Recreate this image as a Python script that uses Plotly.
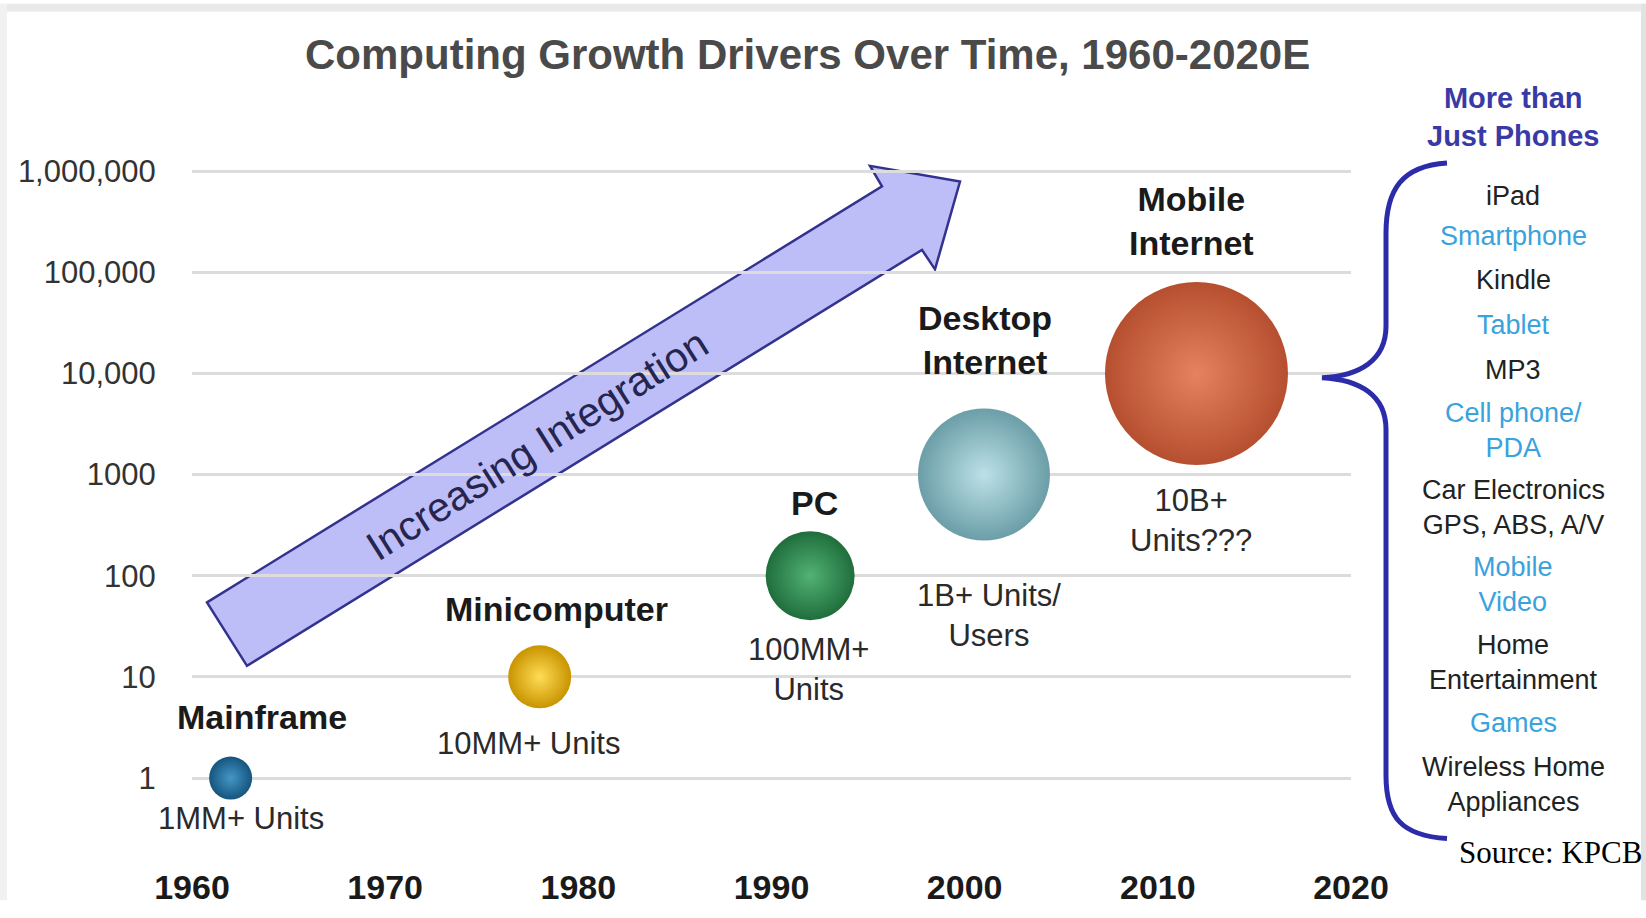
import numpy as np
import plotly.graph_objects as go

# ---------------- data ----------------
categories = ["Mainframe", "Minicomputer", "PC", "Desktop<br>Internet", "Mobile<br>Internet"]
years = [1962, 1978, 1992, 2001, 2012]
units_mm = [1, 10, 100, 1000, 10000]
unit_labels = ["1MM+ Units", "10MM+ Units", "100MM+<br>Units", "1B+ Units/<br>Users", "10B+<br>Units???"]

y_tick_vals = [1, 10, 100, 1000, 10000, 100000, 1000000]
y_tick_text = ["1", "10", "100", "1000", "10,000", "100,000", "1,000,000"]
x_tick_vals = [1960, 1970, 1980, 1990, 2000, 2010, 2020]
x_tick_text = ["1960", "1970", "1980", "1990", "2000", "2010", "2020"]

uses = ["iPad", "Smartphone", "Kindle", "Tablet", "MP3", "Cell phone/<br>PDA",
        "Car Electronics<br>GPS, ABS, A/V", "Mobile<br>Video", "Home<br>Entertainment",
        "Games", "Wireless Home<br>Appliances"]

title_text = "Computing Growth Drivers Over Time, 1960-2020E"
arrow_text = "Increasing Integration"
panel_title = "More than<br>Just Phones"
source_text = "Source: KPCB"

# ---------------- styles / layout ----------------
W, H = 1646, 918
L, R, T, B = 192, 295, 161, 37
PW, PH = W - L - R, H - T - B
FONT = "Liberation Sans, Arial, Helvetica, sans-serif"

bubble_px = [43, 63, 89, 132, 183]
edge_colors = ["#15557e", "#c99400", "#1f6e3c", "#6b9ea8", "#b64f2f"]
center_colors = ["#4596c6", "#ffdc55", "#52b274", "#bde1e7", "#e5825f"]
name_shift = [(31, 61), (17, 68), (4, 73), (1, 135), (-5, 152)]
unit_shift = [(10, -40), (-11, -67), (-2, -94), (5, -141), (-5, -147)]

use_colors = ["#222222", "#3aa2dc", "#222222", "#3aa2dc", "#222222", "#3aa2dc",
              "#222222", "#3aa2dc", "#222222", "#3aa2dc", "#222222"]
use_y_px = [197, 238, 283, 329, 375, 437, 516, 595, 675, 737, 800]
PANEL_X = 1513


def pp(x, y):
    """pixel position -> paper coordinates"""
    return (x - L) / PW, (H - B - y) / PH


def path_px(cmds):
    out = []
    for c in cmds:
        if isinstance(c, str):
            out.append(c)
        else:
            px_, py_ = pp(*c)
            out.append(f"{px_:.5f},{py_:.5f}")
    return " ".join(out)


def paper_note(x, y, text, size, color, family=FONT, angle=0):
    px_, py_ = pp(x, y)
    return dict(x=px_, y=py_, xref="paper", yref="paper", text=text, showarrow=False,
                xanchor="center", yanchor="middle", textangle=angle,
                font=dict(family=family, size=size, color=color))


fig = go.Figure()

fig.add_trace(go.Scatter(
    x=years, y=units_mm, mode="markers",
    marker=dict(size=bubble_px, color=edge_colors, opacity=1,
                gradient=dict(type="radial", color=center_colors),
                line=dict(width=0)),
    cliponaxis=False, hoverinfo="skip", showlegend=False,
))

annotations = []
for yr, v, name, ulab, ns, us in zip(years, units_mm, categories, unit_labels, name_shift, unit_shift):
    annotations.append(dict(x=yr, y=np.log10(v), xref="x", yref="y", text=f"<b>{name}</b>",
                            showarrow=False, xshift=ns[0], yshift=ns[1],
                            xanchor="center", yanchor="middle",
                            font=dict(family=FONT, size=34, color="#1a1a1a")))
    annotations.append(dict(x=yr, y=np.log10(v), xref="x", yref="y", text=ulab,
                            showarrow=False, xshift=us[0], yshift=us[1],
                            xanchor="center", yanchor="middle",
                            font=dict(family=FONT, size=31, color="#2a2a2a")))

annotations.append(paper_note(807, 52, f"<b>{title_text}</b>", 42, "#4a4a4a"))
annotations.append(paper_note(537, 452, arrow_text, 41, "#25254f", angle=-32.3))
annotations.append(paper_note(PANEL_X, 116, f"<b>{panel_title}</b>", 29, "#3a3aa6"))
for txt, col, yy in zip(uses, use_colors, use_y_px):
    annotations.append(paper_note(PANEL_X, yy, txt, 27, col))
annotations.append(paper_note(1551, 869, source_text, 31, "#000000",
                              family="Liberation Serif, Times New Roman, serif"))

# arrow polygon (pixel-derived paper coordinates)
arrow_pts = [(207, 613), (882, 187), (870, 166), (960, 182), (935, 272), (922, 252), (247, 678)]
arrow_cmd = []
for i, p in enumerate(arrow_pts):
    arrow_cmd.append("M" if i == 0 else "L")
    arrow_cmd.append(p)
arrow_cmd.append("Z")

brace_cmd = ["M", (1447, 163), "C", (1402, 166), (1386, 190), (1386, 235),
             "L", (1386, 330), "C", (1386, 365), (1360, 381), (1322, 383),
             "C", (1360, 385), (1386, 401), (1386, 436),
             "L", (1386, 790), "C", (1386, 834), (1402, 852), (1447, 855)]

shapes = [
    dict(type="path", xref="paper", yref="paper", path=path_px(arrow_cmd),
         fillcolor="#bdbdf7", line=dict(color="#33338f", width=2.5), layer="below"),
    dict(type="path", xref="paper", yref="paper", path=path_px(brace_cmd),
         line=dict(color="#2c2caa", width=5)),
]
fx0, fy0 = pp(0, 0)
fx1, fy1 = pp(W, 8)
shapes.append(dict(type="rect", xref="paper", yref="paper", x0=fx0, x1=fx1, y0=fy0, y1=fy1,
                   fillcolor="#e9e9e9", line=dict(width=0), layer="below"))
rx0, ry0 = pp(1641, 0)
rx1, ry1 = pp(W, H)
shapes.append(dict(type="rect", xref="paper", yref="paper", x0=rx0, x1=rx1, y0=ry0, y1=ry1,
                   fillcolor="#e2e2e2", line=dict(width=0), layer="below"))
lx0, ly0 = pp(0, 0)
lx1, ly1 = pp(7, H)
shapes.append(dict(type="rect", xref="paper", yref="paper", x0=lx0, x1=lx1, y0=ly0, y1=ly1,
                   fillcolor="#f1f1f1", line=dict(width=0), layer="below"))

fig.update_layout(
    width=W, height=H, autosize=False,
    margin=dict(l=L, r=R, t=T, b=B, pad=0),
    paper_bgcolor="white", plot_bgcolor="white",
    showlegend=False,
    annotations=annotations, shapes=shapes,
    xaxis=dict(range=[1960, 2020], tickvals=x_tick_vals, ticktext=x_tick_text,
               showgrid=False, zeroline=False, showline=False, ticks="",
               tickfont=dict(family=FONT, size=34, color="#1a1a1a", weight="bold")),
    yaxis=dict(type="log", range=[-0.85, 6.1], tickvals=y_tick_vals, ticktext=y_tick_text,
               showgrid=True, gridcolor="#dcdcdc", gridwidth=3, zeroline=False, showline=False,
               ticks="outside", ticklen=29, tickcolor="rgba(0,0,0,0)",
               tickfont=dict(family=FONT, size=31, color="#333333")),
)

post = (
    "document.documentElement.style.margin='0';document.body.style.margin='0';"
    "document.body.style.padding='0';document.documentElement.style.overflow='hidden';"
    "var gd=document.getElementById('{plot_id}');gd.style.position='fixed';"
    "gd.style.left='0px';gd.style.top='0px';"
)
fig.write_html("out.html", config={"displayModeBar": False}, post_script=post)
